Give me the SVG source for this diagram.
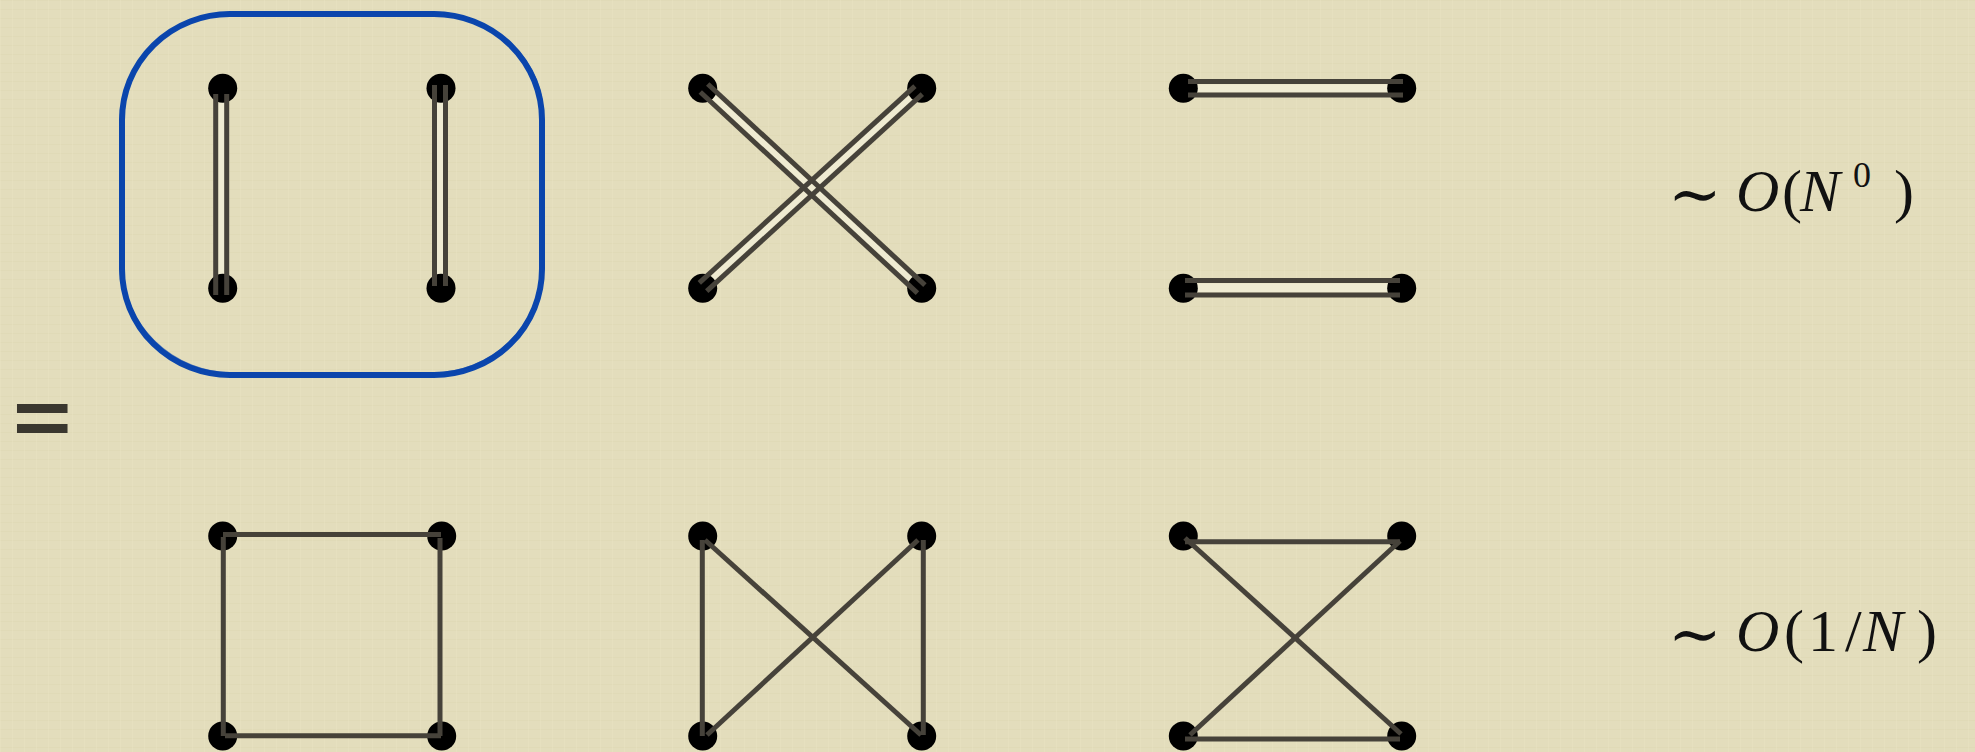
<svg xmlns="http://www.w3.org/2000/svg" width="1975" height="752" viewBox="0 0 1975 752">
<defs>
<pattern id="tex" width="12" height="9" patternUnits="userSpaceOnUse">
<rect width="12" height="9" fill="#e3ddbc"/>
<rect y="0" width="12" height="1" fill="#d9d2ae" opacity="0.35"/>
<rect x="0" width="1" height="9" fill="#eae4c6" opacity="0.35"/>
</pattern>
<style>
.dot{fill:#000}
.edge{stroke:#46423a;stroke-width:5;fill:none;stroke-linecap:butt}
.gap{fill:#efebd2}
.dl{stroke:#46423a;stroke-width:5}
.blue{fill:none;stroke:#0b46ad;stroke-linejoin:round}
.tx{font-family:"Liberation Serif","DejaVu Serif",serif;font-size:60px;fill:#111}
.it{font-style:italic}
.sim{font-family:"DejaVu Serif","Liberation Serif",serif;font-size:64px}
</style>
</defs>
<rect width="1975" height="752" fill="url(#tex)"/>

<!-- blue sketchy outline -->
<g id="highlight">
<rect class="blue" x="122" y="14" width="420" height="361" rx="108" ry="106" stroke-width="6"/>
<rect class="blue" x="120" y="15.5" width="422" height="358" rx="104" ry="110" stroke-width="1.6" opacity="0.7"/>
<rect class="blue" x="124" y="12" width="419" height="364" rx="114" ry="103" stroke-width="1.4" opacity="0.6"/>
<rect class="blue" x="121" y="13" width="423" height="360" rx="112" ry="112" stroke-width="1.2" opacity="0.5"/>
</g>

<!-- light strips of double lines (under dots) -->
<g id="connector-fills">
<g transform="translate(221.2,94) rotate(90)"><rect class="gap" x="0" y="-3" width="201" height="6"/></g>
<g transform="translate(440,85) rotate(90)"><rect class="gap" x="0" y="-3" width="201" height="6"/></g>
<g transform="translate(704,88) rotate(42.8)"><rect class="gap" x="0" y="-3" width="296" height="6"/></g>
<g transform="translate(703,287) rotate(-42.4)"><rect class="gap" x="0" y="-3" width="292" height="6"/></g>
<g transform="translate(1188,88.3)"><rect class="gap" x="0" y="-4" width="215" height="8"/></g>
<g transform="translate(1185,287.8)"><rect class="gap" x="0" y="-4.5" width="215" height="9"/></g>
</g>

<!-- nodes -->
<g id="n-a1"><circle class="dot" cx="222.7" cy="88.3" r="14.5"/></g>
<g id="n-a2"><circle class="dot" cx="441" cy="88.3" r="14.5"/></g>
<g id="n-a3"><circle class="dot" cx="222.7" cy="288.3" r="14.5"/></g>
<g id="n-a4"><circle class="dot" cx="441" cy="288.3" r="14.5"/></g>
<g id="n-b1"><circle class="dot" cx="702.7" cy="88.3" r="14.5"/></g>
<g id="n-b2"><circle class="dot" cx="921.7" cy="88.3" r="14.5"/></g>
<g id="n-b3"><circle class="dot" cx="702.7" cy="288.3" r="14.5"/></g>
<g id="n-b4"><circle class="dot" cx="921.7" cy="288.3" r="14.5"/></g>
<g id="n-c1"><circle class="dot" cx="1183.3" cy="88.3" r="14.5"/></g>
<g id="n-c2"><circle class="dot" cx="1401.7" cy="88.3" r="14.5"/></g>
<g id="n-c3"><circle class="dot" cx="1183.3" cy="288.3" r="14.5"/></g>
<g id="n-c4"><circle class="dot" cx="1401.7" cy="288.3" r="14.5"/></g>
<g id="n-d1"><circle class="dot" cx="222.7" cy="536" r="14.5"/></g>
<g id="n-d2"><circle class="dot" cx="441.7" cy="536" r="14.5"/></g>
<g id="n-d3"><circle class="dot" cx="222.7" cy="736" r="14.5"/></g>
<g id="n-d4"><circle class="dot" cx="441.7" cy="736" r="14.5"/></g>
<g id="n-e1"><circle class="dot" cx="702.7" cy="536" r="14.5"/></g>
<g id="n-e2"><circle class="dot" cx="921.7" cy="536" r="14.5"/></g>
<g id="n-e3"><circle class="dot" cx="702.7" cy="736" r="14.5"/></g>
<g id="n-e4"><circle class="dot" cx="921.7" cy="736" r="14.5"/></g>
<g id="n-f1"><circle class="dot" cx="1183.3" cy="536" r="14.5"/></g>
<g id="n-f2"><circle class="dot" cx="1401.7" cy="536" r="14.5"/></g>
<g id="n-f3"><circle class="dot" cx="1183.3" cy="736" r="14.5"/></g>
<g id="n-f4"><circle class="dot" cx="1401.7" cy="736" r="14.5"/></g>

<!-- connectors -->
<g id="connectors">
<g transform="translate(221.2,94) rotate(90)"><line class="dl" x1="0" y1="-5.5" x2="201" y2="-5.5"/><line class="dl" x1="0" y1="5.5" x2="201" y2="5.5"/></g>
<g transform="translate(440,85) rotate(90)"><line class="dl" x1="0" y1="-5.5" x2="201" y2="-5.5"/><line class="dl" x1="0" y1="5.5" x2="201" y2="5.5"/></g>
<g transform="translate(704,88) rotate(42.8)"><line class="dl" x1="0" y1="-5.5" x2="296" y2="-5.5"/><line class="dl" x1="0" y1="5.5" x2="296" y2="5.5"/></g>
<g transform="translate(703,287) rotate(-42.4)"><line class="dl" x1="0" y1="-5.5" x2="292" y2="-5.5"/><line class="dl" x1="0" y1="5.5" x2="292" y2="5.5"/></g>
<g transform="translate(1188,88.3)"><line class="dl" x1="0" y1="-6.7" x2="215" y2="-6.7"/><line class="dl" x1="0" y1="6.7" x2="215" y2="6.7"/></g>
<g transform="translate(1185,287.8)"><line class="dl" x1="0" y1="-7.2" x2="215" y2="-7.2"/><line class="dl" x1="0" y1="7.2" x2="215" y2="7.2"/></g>

<path class="edge" d="M223,534.5 L441,534.5"/>
<path class="edge" d="M223.3,537 L223.3,736"/>
<path class="edge" d="M225,735.7 L441,735.7"/>
<path class="edge" d="M440,538 L440,736"/>

<path class="edge" d="M702.3,540 L702.3,736"/>
<path class="edge" d="M705,540 L921,735"/>
<path class="edge" d="M707,735 L918,540"/>
<path class="edge" d="M923.3,540 L923.3,735"/>

<path class="edge" d="M1185,541.7 L1400,541.7"/>
<path class="edge" d="M1185,739 L1400,739"/>
<path class="edge" d="M1185,538 L1401,734"/>
<path class="edge" d="M1190,735 L1400,541"/>
</g>

<!-- labels -->
<g id="eq"><text class="tx" x="14" y="452" style="font-size:100px;stroke:#3a372f;stroke-width:4;fill:#3a372f">=</text></g>
<g id="label-top">
<text class="tx" y="211"><tspan class="sim" x="1668" y="216">∼</tspan><tspan class="it" x="1736" y="211">O</tspan><tspan x="1782">(</tspan><tspan class="it" x="1800">N</tspan><tspan x="1853" y="187" style="font-size:36px">0</tspan><tspan x="1894" y="211">)</tspan></text>
</g>
<g id="label-bottom">
<text class="tx" y="651"><tspan class="sim" x="1668" y="656">∼</tspan><tspan class="it" x="1736" y="651">O</tspan><tspan x="1784">(</tspan><tspan x="1808">1</tspan><tspan x="1845">/</tspan><tspan class="it" x="1863">N</tspan><tspan x="1917">)</tspan></text>
</g>
</svg>
